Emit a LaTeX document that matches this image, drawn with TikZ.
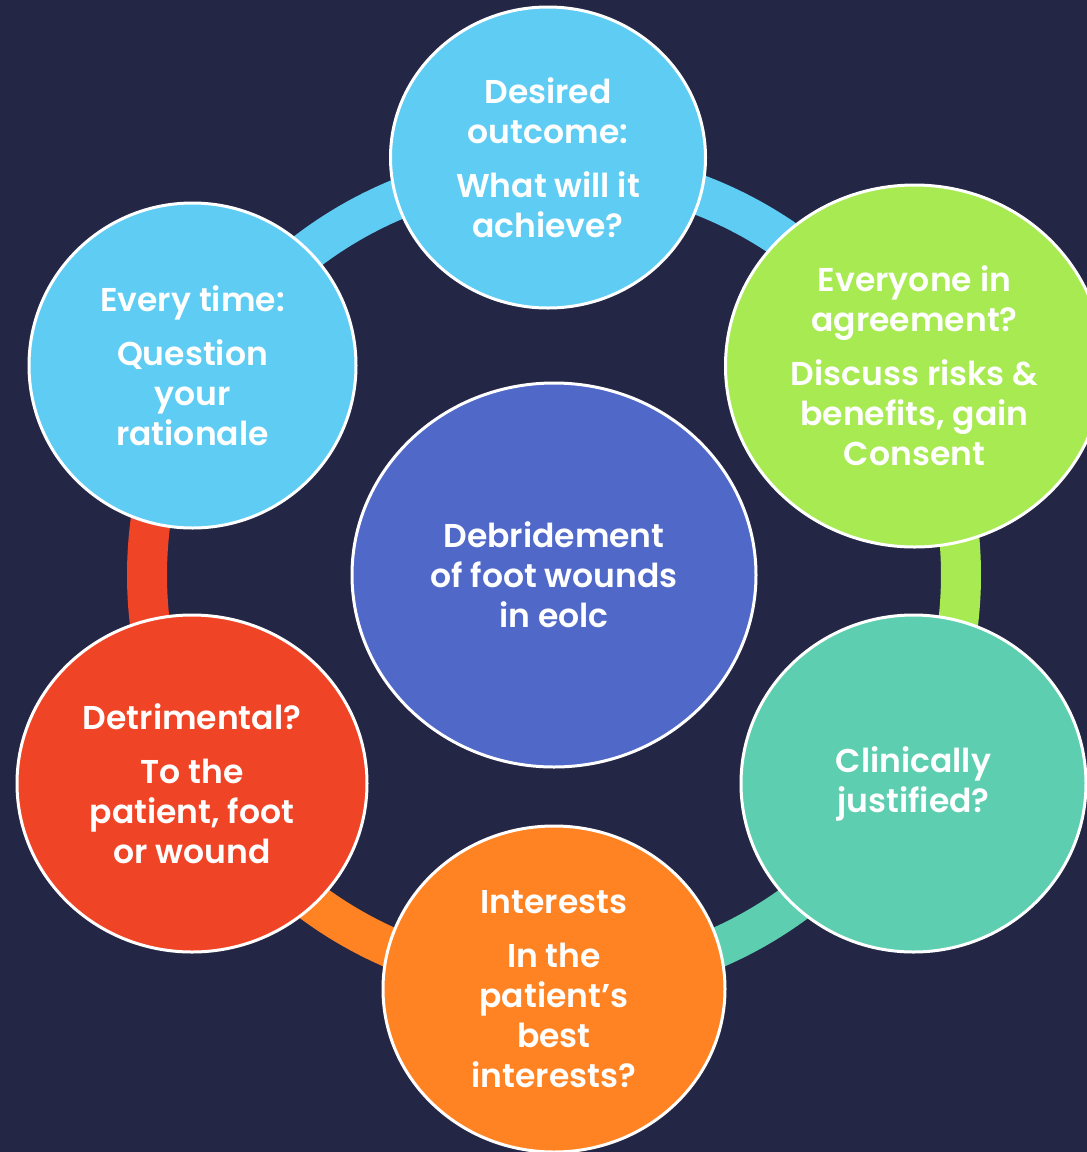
\documentclass[tikz,border=0pt]{standalone}
\usepackage{fontspec}
\setmainfont{Poppins}[BoldFont={* SemiBold}]
\usetikzlibrary{shapes.geometric}
\definecolor{bg}{RGB}{36,38,69}
\definecolor{cblue}{RGB}{94,204,243}
\definecolor{cgreen}{RGB}{168,234,82}
\definecolor{cteal}{RGB}{93,206,175}
\definecolor{corange}{RGB}{255,131,35}
\definecolor{cred}{RGB}{240,68,38}
\definecolor{ccenter}{RGB}{80,104,200}
\tikzset{
  bubble/.style={ellipse, draw=white, line width=3pt, inner sep=0pt, text=white, align=center,
    font=\fontsize{33}{40}\selectfont\bfseries},
  ringarc/.style={line width=40pt, line cap=butt},
}
\begin{document}
\begin{tikzpicture}[x=1pt,y=-1pt]
\useasboundingbox (0,0) rectangle (1087,1152);
\clip (0,0) rectangle (1087,1152);
\fill[bg] (0,0) rectangle (1087,1152);
\coordinate (rc) at (554,575);
% ring segments
\draw[ringarc, cblue]   (rc) ++(-90:407) arc[start angle=-90, end angle=-30, radius=407];
\draw[ringarc, cgreen]  (rc) ++(-30:407) arc[start angle=-30, end angle=30, radius=407];
\draw[ringarc, cteal]   (rc) ++(30:407) arc[start angle=30, end angle=90, radius=407];
\draw[ringarc, corange] (rc) ++(90:407) arc[start angle=90, end angle=150, radius=407];
\draw[ringarc, cred]    (rc) ++(150:407) arc[start angle=150, end angle=210, radius=407];
\draw[ringarc, cblue]   (rc) ++(210:407) arc[start angle=210, end angle=270, radius=407];
% bubbles
\node[bubble, fill=ccenter, minimum width=404pt, minimum height=384pt] (center) at (554,575)
  {Debridement\\of foot wounds\\in eolc};
\node[bubble, fill=cblue, minimum width=315pt, minimum height=301pt] (top) at (548,157.5)
  {Desired\\outcome:\\[14pt]What will it\\achieve?};
\node[bubble, fill=cgreen, minimum width=378pt, minimum height=362pt] (tr) at (914.5,366)
  {Everyone in\\agreement?\\[14pt]Discuss risks \&\\benefits, gain\\Consent};
\node[bubble, fill=cteal, minimum width=345pt, minimum height=337pt] (br) at (913.5,783.5)
  {Clinically\\justified?};
\node[bubble, fill=corange, minimum width=342pt, minimum height=326pt] (bot) at (554,989)
  {Interests\\[14pt]In the\\patient’s\\best\\interests?};
\node[bubble, fill=cred, minimum width=350pt, minimum height=337pt] (bl) at (192,783.5)
  {Detrimental?\\[14pt]To the\\patient, foot\\or wound};
\node[bubble, fill=cblue, minimum width=327pt, minimum height=325pt] (tl) at (192.5,365.5)
  {Every time:\\[14pt]Question\\your\\rationale};
\end{tikzpicture}
\end{document}
